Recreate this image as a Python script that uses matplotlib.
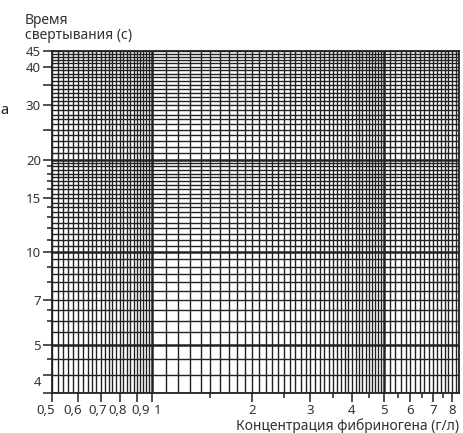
import numpy as np
import matplotlib
matplotlib.use("Agg")
import matplotlib.pyplot as plt
import matplotlib.transforms as mtransforms
from matplotlib.ticker import FixedLocator, NullFormatter

# tick labels (Russian decimal comma)
x_ticks = [0.5, 0.6, 0.7, 0.8, 0.9, 1, 2, 3, 4, 5, 6, 7, 8]
x_labels = ["0,5", "0,6", "0,7", "0,8", "0,9", "1", "2", "3", "4", "5", "6", "7", "8"]
x_minor_ticks = [1.5, 2.5, 3.5, 4.5, 5.5, 6.5, 7.5]

y_ticks = [3.5, 4, 5, 7, 10, 15, 20, 25, 30, 35, 40, 45]
y_labels = ["", "4", "5", "7", "10", "15", "20", "", "30", "", "40", "45"]
y_minor_ticks = [4.5, 6, 6.5, 8, 9, 11, 12, 13, 14, 16, 17, 18, 19]

x_lim = (0.5, 8.4)
y_lim = (3.5, 45)

# grid paper: (start, stop, step)
x_grid = [(0.5, 1.0, 0.02), (1.0, 5.0, 0.1), (5.0, 8.4, 0.2)]
y_grid = [(3.5, 10.0, 0.5), (10.0, 20.0, 0.5), (20.0, 45.0, 1.0)]
x_heavy = [1, 5]
y_heavy = [5, 10, 20]

# hand placement of some labels in the original (pixels)
x_label_shift = {"0,5": -6, "0,6": -6, "0,7": -3, "0,8": -2, "0,9": 4, "1": 6}
y_label_shift = {"4": -6}

x_title = "Концентрация фибриногена (г/л)"
y_title = ["Время", "свертывания (с)"]

plt.rcParams["font.family"] = ["Noto Sans", "DejaVu Sans"]
TXT = "#333333"
LINE = "#222222"

fig = plt.figure(figsize=(4.63, 4.33), dpi=100)
W, H = 463, 433
ax = fig.add_axes([52 / W, 1 - 393 / H, (459 - 52) / W, (393 - 51) / H])
ax.set_xscale("log")
ax.set_yscale("log")
ax.set_xlim(*x_lim)
ax.set_ylim(*y_lim)

def grid_values(segs):
    vals = []
    for a, b, s in segs:
        n = int(round((b - a) / s))
        vals += [a + i * s for i in range(n + 1)]
    return sorted(set(round(v, 4) for v in vals))

for v in grid_values(x_grid):
    lw = 1.8 if v in x_heavy else 1.0
    ax.axvline(v, color=LINE, lw=lw, zorder=1)
for v in grid_values(y_grid):
    lw = 1.8 if v in y_heavy else 1.0
    ax.axhline(v, color=LINE, lw=lw, zorder=1)

for s in ax.spines.values():
    s.set_color(LINE)
    s.set_linewidth(1.3)

ax.xaxis.set_major_locator(FixedLocator(x_ticks))
ax.xaxis.set_minor_locator(FixedLocator(x_minor_ticks))
ax.set_xticklabels(x_labels)
ax.xaxis.set_minor_formatter(NullFormatter())
ax.yaxis.set_major_locator(FixedLocator(y_ticks))
ax.yaxis.set_minor_locator(FixedLocator(y_minor_ticks))
ax.set_yticklabels(y_labels)
ax.yaxis.set_minor_formatter(NullFormatter())

ax.tick_params(which="major", direction="out", length=6.5, width=1.1, color=LINE,
               labelsize=9.5, labelcolor=TXT, pad=1.5)
ax.tick_params(which="minor", direction="out", length=3.5, width=1.1, color=LINE)

for lab in ax.get_xticklabels():
    dx = x_label_shift.get(lab.get_text(), 0)
    if dx:
        off = mtransforms.ScaledTranslation(dx / 100, 0, fig.dpi_scale_trans)
        lab.set_transform(lab.get_transform() + off)
for lab in ax.get_yticklabels():
    dy = y_label_shift.get(lab.get_text(), 0)
    if dy:
        off = mtransforms.ScaledTranslation(0, dy / 100, fig.dpi_scale_trans)
        lab.set_transform(lab.get_transform() + off)

fig.text(459 / W, 1 - 430 / H, x_title, ha="right", va="baseline",
         fontsize=10, color=TXT)
fig.text(25 / W, 1 - 24 / H, y_title[0], ha="left", va="baseline",
         fontsize=10, color=TXT)
fig.text(25 / W, 1 - 39 / H, y_title[1], ha="left", va="baseline",
         fontsize=10, color=TXT)
# letter from the neighbouring panel at the left edge
fig.text(0.5 / W, 1 - 110 / H, "a", ha="left", va="center",
         fontsize=10.5, fontweight="bold", color="#222222")

fig.savefig("out.png", dpi=100)
